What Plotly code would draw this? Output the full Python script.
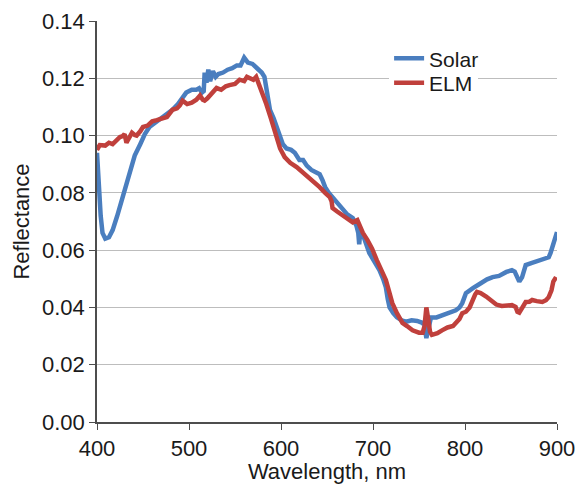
import plotly.graph_objects as go

# Spectral reflectance, Solar vs ELM
solar_wl = [400, 402, 404, 406, 409, 413, 417, 422, 428, 432, 436, 441, 447, 452, 457, 465,
            472, 478, 482, 488, 493, 497, 503, 508, 511, 514, 516, 517, 519, 521, 523, 526,
            529, 532, 537, 542, 547, 552, 556, 560, 564, 569, 574, 579, 582, 585, 588, 592,
            595, 599, 602, 606, 611, 615, 620, 624, 628, 633, 638, 642, 645, 648, 652, 656,
            661, 667, 672, 678, 682, 684, 685, 686, 690, 696, 702, 707, 711, 714, 716, 718,
            722, 726, 731, 736, 742, 748, 753, 756, 758, 760, 763, 769, 775, 783, 790, 794,
            797, 801, 805, 809, 815, 819, 824, 830, 837, 845, 851, 854, 857, 859, 862, 866,
            872, 877, 883, 888, 891, 893, 896, 898, 900]
solar_r = [0.094, 0.082, 0.072, 0.066, 0.064, 0.0645, 0.067, 0.072, 0.0785, 0.084, 0.088, 0.093,
           0.097, 0.1005, 0.103, 0.105, 0.1065, 0.108, 0.109, 0.111, 0.1135, 0.115, 0.116, 0.116,
           0.1165, 0.115, 0.1155, 0.122, 0.1185, 0.123, 0.119, 0.1225, 0.1205, 0.1215, 0.122,
           0.123, 0.1235, 0.1245, 0.1245, 0.1272, 0.1255, 0.125, 0.1235, 0.122, 0.1205, 0.115,
           0.109, 0.106, 0.103, 0.0995, 0.097, 0.0955, 0.095, 0.094, 0.0915, 0.0915, 0.0895,
           0.088, 0.087, 0.0865, 0.0845, 0.082, 0.080, 0.0785, 0.0765, 0.074, 0.0725, 0.0712,
           0.0685, 0.066, 0.062, 0.066, 0.0645, 0.059, 0.056, 0.053, 0.050, 0.047, 0.043, 0.040,
           0.038, 0.0366, 0.0355, 0.035, 0.0355, 0.0353, 0.0347, 0.034, 0.0293, 0.033, 0.0365,
           0.0365, 0.0372, 0.038, 0.039, 0.040, 0.0415, 0.045, 0.046, 0.0468, 0.048, 0.049,
           0.0498, 0.0506, 0.051, 0.0524, 0.053, 0.0525, 0.050, 0.049, 0.0505, 0.0548, 0.0555,
           0.056, 0.0565, 0.0572, 0.0575, 0.059, 0.0625, 0.064, 0.0663]

elm_wl = [400, 403, 409, 413, 417, 421, 425, 428, 430, 432, 434, 438, 441, 443, 447, 450,
          455, 460, 465, 470, 476, 482, 487, 490, 493, 498, 503, 508, 512, 515, 517, 520,
          525, 530, 535, 540, 544, 550, 555, 560, 563, 566, 570, 573, 576, 579, 584, 589,
          593, 596, 599, 604, 610, 617, 624, 631, 637, 642, 648, 653, 655, 656, 661, 667,
          673, 678, 683, 686, 689, 694, 699, 704, 709, 714, 718, 721, 726, 732, 737, 743,
          750, 754, 756, 758, 760, 762, 764, 770, 775, 781, 787, 790, 794, 797, 801, 805,
          808, 811, 813, 817, 823, 829, 834, 840, 845, 851, 855, 857, 859, 862, 866, 870,
          873, 878, 884, 888, 891, 894, 896, 899]
elm_r = [0.095, 0.0967, 0.0965, 0.0975, 0.097, 0.0985, 0.0995, 0.0998, 0.1005, 0.0975, 0.0985,
         0.101, 0.1002, 0.1, 0.1015, 0.103, 0.1035, 0.105, 0.1054, 0.106, 0.1065, 0.109, 0.1095,
         0.1105, 0.1122, 0.111, 0.1115, 0.1125, 0.114, 0.1125, 0.1122, 0.113, 0.115, 0.1166,
         0.116, 0.1172, 0.1176, 0.118, 0.1195, 0.119, 0.1205, 0.1202, 0.1195, 0.1205, 0.118,
         0.115, 0.111, 0.106, 0.102, 0.098, 0.0955, 0.0925, 0.0905, 0.089, 0.087, 0.0855,
         0.0835, 0.082, 0.080, 0.0785, 0.077, 0.0747, 0.0735, 0.0722, 0.0708, 0.0697, 0.0705,
         0.068, 0.066, 0.0635, 0.0605, 0.0566, 0.053, 0.0496, 0.045, 0.0415, 0.038, 0.0346,
         0.0335, 0.032, 0.0312, 0.0312, 0.0335, 0.040, 0.036, 0.0315, 0.0304, 0.031, 0.032,
         0.033, 0.0335, 0.0346, 0.036, 0.038, 0.0385, 0.040, 0.0426, 0.0445, 0.0454, 0.045,
         0.0438, 0.0425, 0.041, 0.0405, 0.0408, 0.0408, 0.0402, 0.0385, 0.0382, 0.040, 0.0419,
         0.042, 0.0426, 0.0422, 0.0419, 0.0425, 0.0436, 0.046, 0.049, 0.0506]

x_ticks = [400, 500, 600, 700, 800, 900]
y_ticks = [0.00, 0.02, 0.04, 0.06, 0.08, 0.10, 0.12, 0.14]

FONT = "Liberation Sans, Arial, sans-serif"
FS = 22

fig = go.Figure()
# ELM entry sits in the first legend (white box hides the grid line behind it);
# Solar goes in a second, transparent legend drawn on top.
fig.add_trace(go.Scatter(x=solar_wl, y=solar_r, mode="lines", name="Solar",
                         legend="legend2",
                         line=dict(color="#4a7ebf", width=4.5)))
fig.add_trace(go.Scatter(x=elm_wl, y=elm_r, mode="lines", name="ELM",
                         legend="legend",
                         line=dict(color="#c0403c", width=4.5)))

legend_style = dict(xanchor="left", yanchor="middle", borderwidth=0,
                    font=dict(size=21), itemwidth=30)

fig.update_layout(
    width=577, height=484,
    margin=dict(l=97, r=20, t=21, b=62),
    paper_bgcolor="white", plot_bgcolor="white",
    font=dict(family=FONT, size=FS, color="#1a1a1a"),
    showlegend=True,
    legend2=dict(x=0.635, y=0.906, bgcolor="rgba(255,255,255,0)", **legend_style),
    legend=dict(x=0.635, y=0.845, bgcolor="white", **legend_style),
    xaxis=dict(range=[400, 900], tickvals=x_ticks, ticktext=[str(v) for v in x_ticks],
               showgrid=False, zeroline=False, showline=True, linecolor="#4d4d4d",
               linewidth=1.5, ticks="outside", ticklen=6, tickcolor="#4d4d4d",
               automargin=False, tickfont=dict(size=FS),
               title=dict(text="Wavelength, nm", standoff=0, font=dict(size=FS))),
    yaxis=dict(range=[0, 0.14], tickvals=y_ticks, ticktext=[f"{v:.2f}" for v in y_ticks],
               showgrid=True, gridcolor="#bdbdbd", gridwidth=1.2, zeroline=False,
               showline=True, linecolor="#4d4d4d", linewidth=1.5,
               ticks="outside", ticklen=6, tickcolor="#4d4d4d",
               automargin=False, tickfont=dict(size=FS),
               title=dict(text="Reflectance", standoff=6, font=dict(size=FS))),
)

fig.write_html("out.html")
